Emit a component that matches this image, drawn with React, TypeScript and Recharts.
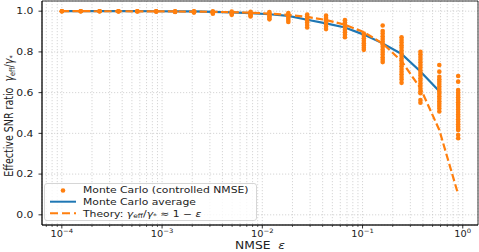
import React from "react";
import {
  ComposedChart,
  XAxis,
  YAxis,
  CartesianGrid,
  Line,
  Scatter,
  Legend,
  ReferenceArea,
} from "recharts";

const ORANGE = "#ff7f0e";
const BLUE = "#1f77b4";
const FONT = "'DejaVu Sans', sans-serif";

// NMSE values of the Monte Carlo runs (log-spaced, 1e-4 ... 0.9)
const NMSE = [
  1e-4, 1.543e-4, 2.38e-4, 3.672e-4, 5.665e-4, 8.74e-4, 1.349e-3, 2.08e-3,
  3.21e-3, 4.953e-3, 7.638e-3, 0.01178, 0.01818, 0.02804, 0.04326, 0.06675,
  0.103, 0.1589, 0.2451, 0.3782, 0.5834, 0.9,
];

// Monte Carlo average (no average drawn for the last NMSE)
const AVG = [
  1.0, 1.0, 1.0, 0.9999, 0.9998, 0.9997, 0.9995, 0.999, 0.997, 0.994, 0.99,
  0.985, 0.977, 0.958, 0.94, 0.92, 0.885, 0.842, 0.79, 0.704, 0.607, null,
];

// Theory: 1 - eps
const THEORY = [
  0.9999, 0.99985, 0.99976, 0.99963, 0.99943, 0.99913, 0.99865, 0.99792,
  0.99679, 0.99505, 0.99236, 0.98822, 0.98182, 0.97196, 0.95674, 0.93325,
  0.897, 0.8411, 0.7549, 0.6218, 0.4166, 0.1,
];

// individual Monte Carlo trials, one list per NMSE value
const MC_SAMPLES: number[][] = [
  [1.0, 0.9999, 0.9998],
  [1.0, 0.9998, 0.9996],
  [0.9999, 0.9997, 0.9994],
  [0.9999, 0.9995, 0.999],
  [0.9998, 0.9993, 0.9986],
  [0.9997, 0.999, 0.998],
  [0.9996, 0.9985, 0.9972, 0.996],
  [0.9995, 0.998, 0.996, 0.993],
  [0.999, 0.996, 0.992, 0.988],
  [0.998, 0.993, 0.988, 0.982],
  [0.997, 0.991, 0.985, 0.979, 0.974],
  [0.996, 0.989, 0.982, 0.975, 0.967, 0.96],
  [0.991, 0.983, 0.975, 0.966, 0.957, 0.947],
  [0.984, 0.975, 0.965, 0.955, 0.944, 0.932, 0.92],
  [0.978, 0.967, 0.956, 0.945, 0.934, 0.923, 0.912],
  [0.956, 0.945, 0.933, 0.921, 0.909, 0.897, 0.884, 0.872],
  [0.89, 0.879, 0.867, 0.855, 0.843, 0.831, 0.82, 0.81],
  [0.93, 0.903, 0.89, 0.877, 0.864, 0.851, 0.838, 0.825, 0.812, 0.8, 0.787, 0.774, 0.762, 0.75],
  [0.872, 0.859, 0.846, 0.833, 0.82, 0.807, 0.794, 0.781, 0.768, 0.755, 0.742, 0.729, 0.716, 0.703, 0.69, 0.677, 0.664, 0.648],
  [0.801, 0.788, 0.775, 0.762, 0.749, 0.736, 0.723, 0.71, 0.697, 0.684, 0.671, 0.658, 0.645, 0.632, 0.619, 0.607, 0.597, 0.564, 0.55],
  [0.736, 0.703, 0.678, 0.666, 0.654, 0.642, 0.63, 0.618, 0.606, 0.594, 0.582, 0.57, 0.558, 0.546, 0.534, 0.522, 0.507],
  [0.682, 0.654, 0.613, 0.601, 0.589, 0.577, 0.565, 0.553, 0.541, 0.529, 0.517, 0.505, 0.493, 0.481, 0.469, 0.457, 0.445, 0.433, 0.422, 0.416, 0.392, 0.376],
];

const X_MIN = 6.34e-5;
const X_MAX = 1.419;
const Y_MIN = -0.05;
const Y_MAX = 1.05;

const X_MAJOR = [1e-4, 1e-3, 1e-2, 1e-1, 1];
const X_MINOR_MULT = [2, 3, 4, 5, 6, 7, 8, 9];
const Y_TICKS = [0, 0.2, 0.4, 0.6, 0.8, 1.0];

const X_TICKS = [
  7e-5, 8e-5, 9e-5,
  ...X_MAJOR,
  ...X_MAJOR.slice(0, 4).flatMap((d) => X_MINOR_MULT.map((m) => m * d)),
].sort((a, b) => a - b);

const lineData = NMSE.map((eps, i) => ({ eps, avg: AVG[i], theory: THEORY[i] }));
const mcData = MC_SAMPLES.flatMap((vals, i) => vals.map((mc) => ({ eps: NMSE[i], mc })));

const TICK_SIZE = 3.5;
const X_TICK_MARGIN = 2;

function XTick(props: any) {
  const { x, y, payload } = props;
  const v = payload.value as number;
  const lg = Math.log10(v);
  const major = Math.abs(lg - Math.round(lg)) < 1e-6;
  const axisY = y - TICK_SIZE - X_TICK_MARGIN;
  const exp = Math.round(lg);
  return (
    <g>
      <line
        x1={x}
        x2={x}
        y1={axisY}
        y2={axisY + (major ? 3.5 : 2)}
        stroke="#000"
        strokeWidth={major ? 0.8 : 0.6}
      />
      {major && (
        <text
          transform={`translate(${x},${axisY + 12}) scale(1.15,1)`}
          textAnchor="middle"
          fontSize={8.5}
          fontFamily={FONT}
          fill="#222"
        >
          10
          <tspan dy={-4} fontSize={6}>
            {exp === 0 ? "0" : "\u2212" + -exp}
          </tspan>
        </text>
      )}
    </g>
  );
}

function YTick(props: any) {
  const { x, y, payload } = props;
  return (
    <text
      transform={`translate(${x},${y}) scale(1.2,1)`}
      textAnchor="end"
      dy="0.35em"
      fontSize={9}
      fontFamily={FONT}
      fill="#222"
    >
      {(payload.value as number).toFixed(1)}
    </text>
  );
}

function renderXLabel() {
  return (
    <text
      transform="translate(260,249) scale(1.12,1)"
      textAnchor="middle"
      fontSize={11}
      fontFamily={FONT}
      fill="#222"
      style={{ whiteSpace: "pre" }}
    >
      {"NMSE  "}
      <tspan fontStyle="italic">ε</tspan>
    </text>
  );
}

function renderYLabel() {
  return (
    <text
      transform="translate(13,116) rotate(-90) scale(1,1.2)"
      textAnchor="middle"
      fontSize={9.5}
      fontFamily={FONT}
      fill="#222"
      style={{ whiteSpace: "pre" }}
    >
      {"Effective SNR ratio  "}
      <tspan fontStyle="italic">γ</tspan>
      <tspan fontSize={6.5} dy={2}>eff</tspan>
      <tspan dy={-2}>/</tspan>
      <tspan fontStyle="italic">γ</tspan>
      <tspan fontSize={6.5} dy={2}>*</tspan>
    </text>
  );
}

function LegendBox() {
  const txt = (y: number) => ({
    transform: `translate(39,${y}) scale(1.2,1)`,
    fontSize: 9,
    fontFamily: FONT,
    fill: "#222",
  });
  return (
    <svg width={213} height={38} style={{ display: "block", overflow: "visible" }}>
      <rect
        x={0.5}
        y={0.5}
        width={212}
        height={37}
        rx={2.5}
        fill="#fff"
        fillOpacity={0.8}
        stroke="#ccc"
        strokeWidth={0.8}
      />
      <circle cx={19} cy={7.5} r={2.3} fill={ORANGE} />
      <text {...txt(10)}>Monte Carlo (controlled NMSE)</text>
      <line x1={6} x2={32} y1={18.7} y2={18.7} stroke={BLUE} strokeWidth={2} />
      <text {...txt(22)}>Monte Carlo average</text>
      <line
        x1={6}
        x2={32}
        y1={30.3}
        y2={30.3}
        stroke={ORANGE}
        strokeWidth={2}
        strokeDasharray="8 4"
      />
      <text {...txt(33.5)} style={{ whiteSpace: "pre" }}>
        {"Theory: "}
        <tspan fontStyle="italic">γ</tspan>
        <tspan fontSize={6.3} dy={1.5}>eff</tspan>
        <tspan dy={-1.5}>/</tspan>
        <tspan fontStyle="italic">γ</tspan>
        <tspan fontSize={6.3} dy={1.5}>*</tspan>
        <tspan dy={-1.5}>{" ≈ 1 − "}</tspan>
        <tspan fontStyle="italic">ε</tspan>
      </text>
    </svg>
  );
}

export default function App() {
  return (
    <div style={{ position: "absolute", left: 0, top: 0, background: "#fff" }}>
      <ComposedChart
        width={479}
        height={252}
        margin={{ top: 1, right: 1, bottom: 0, left: 0 }}
      >
        <CartesianGrid
          stroke="#c4c4c4"
          strokeWidth={0.7}
          strokeDasharray="1.2 1.8"
        />
        <XAxis
          type="number"
          dataKey="eps"
          scale="log"
          domain={[X_MIN, X_MAX]}
          allowDataOverflow
          ticks={X_TICKS}
          interval={0}
          tick={<XTick />}
          tickLine={false}
          tickSize={TICK_SIZE}
          tickMargin={X_TICK_MARGIN}
          axisLine={{ stroke: "#000", strokeWidth: 0.8 }}
          height={27}
          label={renderXLabel}
        />
        <YAxis
          type="number"
          domain={[Y_MIN, Y_MAX]}
          allowDataOverflow
          ticks={Y_TICKS}
          interval={0}
          tick={<YTick />}
          tickLine={{ stroke: "#000", strokeWidth: 0.8 }}
          tickSize={TICK_SIZE}
          tickMargin={5}
          axisLine={{ stroke: "#000", strokeWidth: 0.8 }}
          width={42}
          label={renderYLabel}
        />
        <Line
          data={lineData}
          dataKey="avg"
          type="linear"
          stroke={BLUE}
          strokeWidth={2.2}
          dot={false}
          isAnimationActive={false}
        />
        <Line
          data={lineData}
          dataKey="theory"
          type="linear"
          stroke={ORANGE}
          strokeWidth={2.2}
          strokeDasharray="7.4 3.2"
          dot={false}
          isAnimationActive={false}
        />
        <Scatter
          data={mcData}
          dataKey="mc"
          isAnimationActive={false}
          shape={(p: any) => <circle cx={p.cx} cy={p.cy} r={2.3} fill={ORANGE} />}
        />
        <ReferenceArea
          x1={X_MIN}
          x2={X_MAX}
          y1={Y_MIN}
          y2={Y_MAX}
          fill="none"
          stroke="#000"
          strokeWidth={0.8}
          ifOverflow="visible"
        />
        <Legend
          layout="vertical"
          align="center"
          verticalAlign="middle"
          wrapperStyle={{ left: 44, top: 183, width: 213, height: 38 }}
          content={() => <LegendBox />}
        />
      </ComposedChart>
    </div>
  );
}
